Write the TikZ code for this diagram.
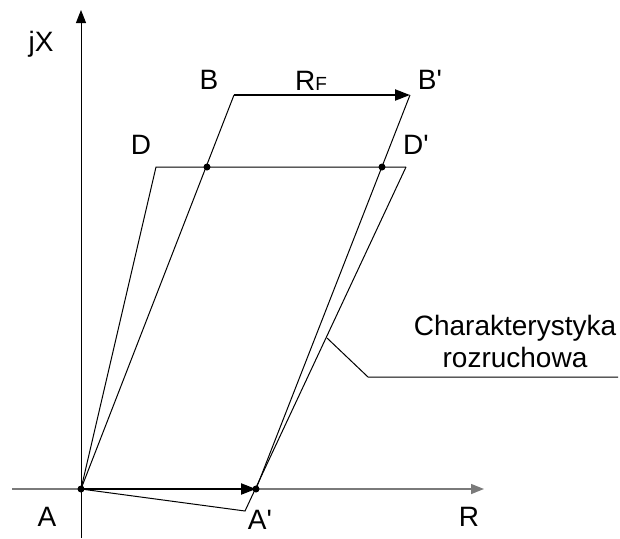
\documentclass[tikz,border=0pt]{standalone}
\usepackage{fontspec}
\setmainfont{Liberation Sans}
\usepackage{xcolor}
\usetikzlibrary{arrows.meta, positioning, calc}
\definecolor{zAxis}{HTML}{7A7A7A}
\definecolor{zInk}{HTML}{000000}
\newcommand{\prim}{\textquotesingle}
\tikzset{
  axisline/.style={-{Triangle[length=13pt, width=10pt]}, line width=1.4pt},
  thinline/.style={line width=1pt, zInk},
  vecline/.style={-{Triangle[length=15pt, width=11pt]}, line width=2.2pt, zInk},
  ptdot/.style={circle, fill=zInk, inner sep=0pt, minimum size=7pt},
  lbl/.style={font=\fontsize{28}{32}\selectfont, inner sep=0pt, align=center}
}
\begin{document}
\begin{tikzpicture}[x=1pt, y=-1pt]
  \useasboundingbox (0,0) rectangle (620,538);
  % punkty
  \coordinate (A) at (81,489);
  \coordinate (Ap) at (256,489);
  \coordinate (C) at (245,511);
  \coordinate (B) at (234,95);
  \coordinate (Bp) at (410,95);
  \coordinate (D) at (156,167);
  \coordinate (Dp) at (406,167);
  \coordinate (xl) at (12,489);
  \coordinate (xr) at (484,489);
  \coordinate (yb) at (81,538);
  \coordinate (yt) at (81,10);
  % osie
  \draw[axisline, zAxis] (xl) -- (xr);
  \draw[axisline, zInk, line width=1pt] (yb) -- (yt);
  % charakterystyki
  \draw[thinline] (A) -- (D) -- (Dp);
  \draw[thinline] (A) -- (B);
  \draw[thinline] (Ap) -- (Bp);
  \draw[thinline] (A) -- (C) -- (Dp);
  \draw[vecline] (B) -- (Bp);
  \draw[vecline] (A) -- (Ap);
  % punkty przeciecia
  \node[ptdot] (dA) at (A) {};
  \node[ptdot] (dAp) at (Ap) {};
  \node[ptdot] (dE) at (207,167) {};
  \node[ptdot] (dEp) at (382,167) {};
  % opisy
  \node[lbl] (jx) at (41,44) {jX};
  \node[lbl] (lR) at (469,517) {R};
  \node[lbl] (lA) at (47,517) {A};
  \node[lbl] (lAp) at (260,520) {A\prim};
  \node[lbl] (lB) at (209,80) {B};
  \node[lbl] (lBp) at (430,80) {B\prim};
  \node[lbl] (lD) at (141,145) {D};
  \node[lbl] (lDp) at (416,145) {D\prim};
  \node[lbl] (lRF) at (311,81) {R{\fontsize{19}{22}\selectfont F}};
  \node[lbl] (char) at (515,341) {Charakterystyka\\rozruchowa};
  % odnosnik
  \coordinate (L1) at (327,338);
  \coordinate (L2) at (368,377);
  \coordinate (L3) at (618,377);
  \draw[thinline] (L1) -- (L2) -- (L3);
\end{tikzpicture}
\end{document}
